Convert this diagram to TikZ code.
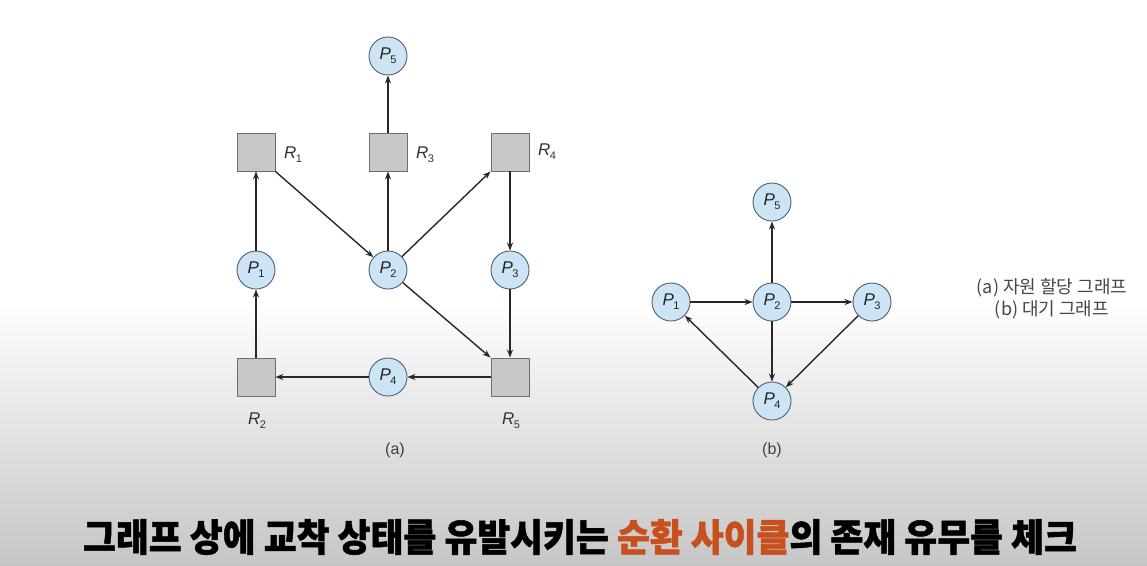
\documentclass[tikz,border=0pt]{standalone}
\usepackage{fontspec}
\setmainfont{Liberation Sans}
\newfontfamily\krfont{Noto Sans CJK KR}
\newfontfamily\krheavy[BoldFeatures={FakeBold=1.3}]{Noto Sans CJK KR}
\usetikzlibrary{arrows.meta}
\definecolor{procfill}{RGB}{205,228,245}
\definecolor{procdraw}{RGB}{75,95,115}
\definecolor{resfill}{RGB}{200,200,200}
\definecolor{resdraw}{RGB}{110,110,110}
\definecolor{edgecol}{RGB}{40,40,40}
\definecolor{hilite}{RGB}{200,80,30}
\definecolor{legendcol}{RGB}{70,70,70}
\tikzset{
  proc/.style={circle, minimum size=38pt, inner sep=0pt, draw=procdraw, line width=0.9pt, fill=procfill, font=\fontsize{17}{17}\selectfont, text=black!85},
  res/.style={rectangle, minimum size=38pt, inner sep=0pt, draw=resdraw, line width=0.9pt, fill=resfill},
  rlabel/.style={font=\fontsize{17}{17}\selectfont, text=black!80},
  arr/.style={draw=edgecol, line width=1.4pt, -{Stealth[length=8pt,width=6pt]}},
  figcap/.style={font=\fontsize{16}{16}\selectfont, text=black!75},
}
\newcommand{\Pn}[1]{\textit{P}\kern-0.5pt\raisebox{-0.45ex}{\fontsize{11}{11}\selectfont #1}}
\newcommand{\Rn}[1]{\textit{R}\kern-0.5pt\raisebox{-0.45ex}{\fontsize{11}{11}\selectfont #1}}
\begin{document}
\begin{tikzpicture}[x=1pt,y=-1pt]
\useasboundingbox (0,0) rectangle (1147,565);
\fill[white] (0,0) rectangle (1147,300);
\shade[top color=white, bottom color={rgb,255:red,198;green,198;blue,198}] (0,300) rectangle (1147,565);
% (a) resource allocation graph
\node[res] (R1) at (256,152) {};
\node[res] (R3) at (388,152) {};
\node[res] (R4) at (510,152) {};
\node[res] (R2) at (256,377) {};
\node[res] (R5) at (510,377) {};
\node[proc] (aP5) at (388,56) {\Pn{5}};
\node[proc] (aP1) at (256,270) {\Pn{1}};
\node[proc] (aP2) at (388,270) {\Pn{2}};
\node[proc] (aP3) at (510,270) {\Pn{3}};
\node[proc] (aP4) at (388,377) {\Pn{4}};
\node[rlabel] (lR1) at (293,155) {\Rn{1}};
\node[rlabel] (lR3) at (425,155) {\Rn{3}};
\node[rlabel] (lR4) at (547,152) {\Rn{4}};
\node[rlabel] (lR2) at (257,421) {\Rn{2}};
\node[rlabel] (lR5) at (511,421) {\Rn{5}};
\draw[arr] (R2) -- (aP1);
\draw[arr] (aP1) -- (R1);
\draw[arr] (R1.south east) -- (aP2);
\draw[arr] (aP2) -- (R3);
\draw[arr] (R3) -- (aP5);
\draw[arr] (aP2) -- (R4.south west);
\draw[arr] (R4) -- (aP3);
\draw[arr] (aP3) -- (R5);
\draw[arr] (aP2) -- (R5.north west);
\draw[arr] (R5) -- (aP4);
\draw[arr] (aP4) -- (R2);
\node[figcap] (capa) at (395,450) {(a)};
% (b) wait-for graph
\node[proc] (bP5) at (772,202) {\Pn{5}};
\node[proc] (bP1) at (671,302) {\Pn{1}};
\node[proc] (bP2) at (772,302) {\Pn{2}};
\node[proc] (bP3) at (872,302) {\Pn{3}};
\node[proc] (bP4) at (772,401) {\Pn{4}};
\draw[arr] (bP1) -- (bP2);
\draw[arr] (bP2) -- (bP3);
\draw[arr] (bP2) -- (bP5);
\draw[arr] (bP2) -- (bP4);
\draw[arr] (bP3) -- (bP4);
\draw[arr] (bP4) -- (bP1);
\node[figcap] (capb) at (772,450) {(b)};
% legend
\node[font=\krfont\fontsize{18}{18}\selectfont, text=legendcol, align=center] (legend) at (1052,299) {(a) 자원 할당 그래프\\[3pt](b) 대기 그래프};
% subtitle
\node[font=\krheavy\bfseries\fontsize{38}{38}\selectfont, text=black, xscale=0.94] (sub) at (580,537) {그래프 상에 교착 상태를 유발시키는 \textcolor{hilite}{순환 사이클}의 존재 유무를 체크};
\end{tikzpicture}
\end{document}
